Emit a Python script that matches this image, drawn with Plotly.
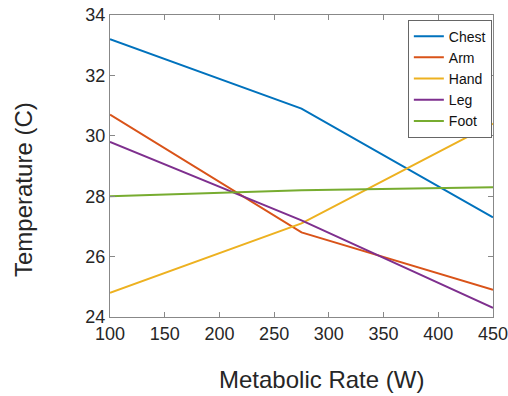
import plotly.graph_objects as go

metabolic_rate = [100, 275, 450]
chest = [33.2, 30.9, 27.3]
arm = [30.7, 26.8, 24.9]
hand = [24.8, 27.1, 30.4]
leg = [29.8, 27.2, 24.3]
foot = [28.0, 28.2, 28.3]

series = [("Chest", chest, "#0072BD"), ("Arm", arm, "#D95319"), ("Hand", hand, "#EDB120"),
          ("Leg", leg, "#7E2F8E"), ("Foot", foot, "#77AC30")]

FONT = "Liberation Sans, Arial, sans-serif"
W, H = 508, 396
ML, MR, MT, MB = 110, 15, 15, 79

fig = go.Figure()
for name, vals, col in series:
    fig.add_trace(go.Scatter(x=metabolic_rate, y=vals, mode="lines", name=name,
                             line=dict(color=col, width=2)))

axis_common = dict(showgrid=False, zeroline=False, showline=True, linecolor="#888888", linewidth=1,
                   mirror="ticks", ticks="inside", ticklen=5, tickcolor="#888888", automargin=False,
                   ticklabeloverflow="allow",
                   tickfont=dict(family=FONT, size=18, color="#262626"))

fig.update_xaxes(range=[100, 450], tickvals=[100, 150, 200, 250, 300, 350, 400, 450], **axis_common)
fig.update_yaxes(range=[24, 34], tickvals=[24, 26, 28, 30, 32, 34], **axis_common)

pw = W - ML - MR
ph = H - MT - MB
fig.add_annotation(text="Metabolic Rate (W)", xref="paper", yref="paper",
                   x=(321 - ML) / pw, y=-(379 - (H - MB)) / ph, xanchor="center", yanchor="middle",
                   showarrow=False, font=dict(family=FONT, size=24, color="#262626"))
fig.add_annotation(text="Temperature (C)", xref="paper", yref="paper", textangle=-90,
                   x=(23 - ML) / pw, y=((H - MB) - 190) / ph, xanchor="center", yanchor="middle",
                   showarrow=False, font=dict(family=FONT, size=24, color="#262626"))

fig.update_layout(
    width=W, height=H,
    margin=dict(l=ML, r=MR, t=MT, b=MB),
    plot_bgcolor="white", paper_bgcolor="white",
    showlegend=True,
    legend=dict(x=0.997, y=0.985, xanchor="right", yanchor="top", bgcolor="white",
                bordercolor="#666666", borderwidth=1,
                font=dict(family=FONT, size=14, color="#111111"),
                tracegroupgap=0, itemwidth=30),
)

fig.write_html("out.html", config={"displayModeBar": False},
               post_script="document.body.style.margin='0';document.body.style.padding='0';")
